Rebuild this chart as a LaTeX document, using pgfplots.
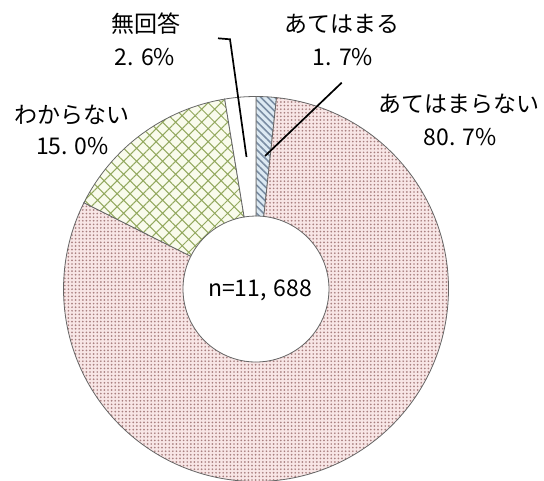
\documentclass[border=0pt]{standalone}
\usepackage{fontspec}
\setmainfont{Noto Sans CJK JP}
\usepackage{pgfplots}
\pgfplotsset{compat=1.18}
\usetikzlibrary{patterns.meta}
\definecolor{outc}{HTML}{666666}
\definecolor{pinkbg}{HTML}{F8E6E6}
\definecolor{pinkdot}{HTML}{A98080}
\definecolor{greenbg}{HTML}{F9FBEC}
\definecolor{greenln}{HTML}{93A95F}
\definecolor{bluebg}{HTML}{DDEAF3}
\definecolor{blueln}{HTML}{7A8DA3}
% values (percent), clockwise from 12 o'clock
\def\vA{1.7}% あてはまる
\def\vB{80.7}% あてはまらない
\def\vC{15.0}% わからない
\def\vD{2.6}% 無回答
\pgfmathsetmacro\aA{90}
\pgfmathsetmacro\aB{\aA-3.6*\vA}
\pgfmathsetmacro\aC{\aB-3.6*\vB}
\pgfmathsetmacro\aD{\aC-3.6*\vC}
\pgfmathsetmacro\aE{\aD-3.6*\vD}
\def\cx{256}\def\cy{191}
\def\Rout{192.5pt}\def\Rin{73pt}
\newcommand{\donutwedge}[3]{%
  \path[#3] ([shift={(#1:\Rout)}]axis cs:\cx,\cy)
    arc[start angle=#1,end angle=#2,radius=\Rout]
    -- ([shift={(#2:\Rin)}]axis cs:\cx,\cy)
    arc[start angle=#2,end angle=#1,radius=\Rin] -- cycle;}
\begin{document}
\begin{tikzpicture}
\useasboundingbox (0,0) rectangle (544pt,480pt);
\begin{axis}[x=1pt,y=1pt,xmin=0,xmax=544,ymin=0,ymax=480,hide axis,clip=false,
  at={(0,0)},anchor=south west]
\donutwedge{\aA}{\aB}{preaction={fill=bluebg},pattern={Lines[angle=-45,distance=5pt,line width=1.6pt]},pattern color=blueln,draw=outc,line width=0.8pt}
\donutwedge{\aB}{\aC}{preaction={fill=pinkbg},pattern={Dots[radius=0.95pt,distance=3.6pt]},pattern color=pinkdot,draw=outc,line width=0.8pt}
\donutwedge{\aC}{\aD}{preaction={fill=greenbg},pattern={Hatch[angle=45,distance=9.2pt,line width=1pt]},pattern color=greenln,draw=outc,line width=0.8pt}
\donutwedge{\aD}{\aE}{fill=white,draw=outc,line width=0.8pt}
% leader lines
\draw[black,line width=1.7pt] (axis cs:218,441.7) -- (axis cs:230,440.7) -- (axis cs:246.5,323);
\draw[black,line width=1.7pt] (axis cs:341.7,397.3) -- (axis cs:265,324);
% labels
\tikzset{lbl/.style={font=\fontsize{23}{28}\selectfont,inner sep=0pt,anchor=center}}
\node[lbl] at (axis cs:146,456) {無回答};
\node[lbl] at (axis cs:145,423) {2.\hspace{0.3em}6\%};
\node[lbl] at (axis cs:342,456) {あてはまる};
\node[lbl] at (axis cs:343,423) {1.\hspace{0.3em}7\%};
\node[lbl] at (axis cs:459,376) {あてはまらない};
\node[lbl] at (axis cs:460,343) {80.\hspace{0.3em}7\%};
\node[lbl] at (axis cs:72.5,365) {わからない};
\node[lbl] at (axis cs:72.5,334) {15.\hspace{0.3em}0\%};
\node[lbl] at (axis cs:260,190) {n=11,\hspace{0.3em}688};
\end{axis}
\end{tikzpicture}
\end{document}
